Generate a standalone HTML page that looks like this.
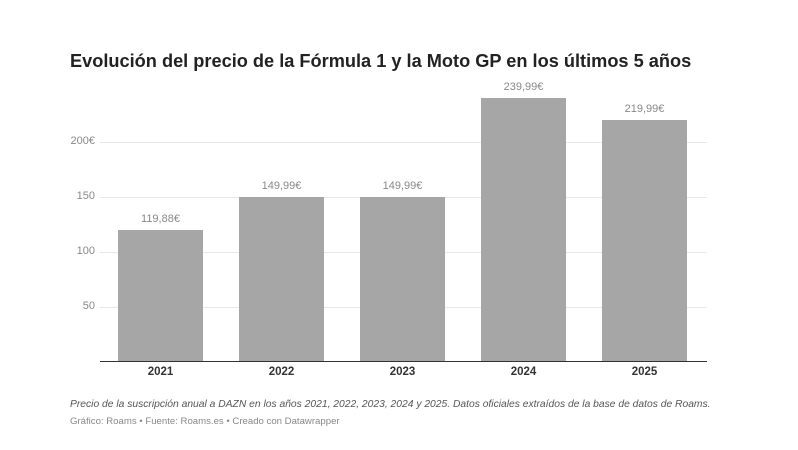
<!DOCTYPE html>
<html><head><meta charset="utf-8"><style>
*{margin:0;padding:0;box-sizing:border-box}
body{width:798px;height:450px;background:#fff;position:relative;overflow:hidden;font-family:"Liberation Sans",sans-serif}
.t{position:absolute;white-space:nowrap}
.g{position:absolute;left:100px;width:607px;height:1px;background:#e8e8e8}
.yl{position:absolute;right:703px;font-size:11px;color:#888;text-align:right}
.bar{position:absolute;width:85px;background:#a6a6a6;bottom:88px}
.vl{position:absolute;width:85px;text-align:center;font-size:11px;color:#888}
.xl{position:absolute;width:85px;text-align:center;font-size:11.5px;color:#333;top:366px;font-weight:bold}
</style></head><body>
<div class="t" style="left:70px;top:51px;font-size:18.2px;font-weight:bold;color:#222">Evolución del precio de la Fórmula 1 y la Moto GP en los últimos 5 años</div>
<div class="g" style="top:142px"></div>
<div class="g" style="top:197px"></div>
<div class="g" style="top:252px"></div>
<div class="g" style="top:307px"></div>
<div class="yl t" style="top:135px">200€</div>
<div class="yl t" style="top:190px">150</div>
<div class="yl t" style="top:245px">100</div>
<div class="yl t" style="top:300px">50</div>
<div class="bar" style="left:118px;top:230px"></div>
<div class="bar" style="left:239px;top:197px"></div>
<div class="bar" style="left:360px;top:197px"></div>
<div class="bar" style="left:481px;top:98px"></div>
<div class="bar" style="left:602px;top:120px"></div>
<div style="position:absolute;left:100px;top:361px;width:607px;height:1px;background:#333"></div>
<div class="vl" style="left:118px;top:213px">119,88€</div>
<div class="vl" style="left:239px;top:180px">149,99€</div>
<div class="vl" style="left:360px;top:180px">149,99€</div>
<div class="vl" style="left:481px;top:81px">239,99€</div>
<div class="vl" style="left:602px;top:103px">219,99€</div>
<div class="xl" style="left:118px">2021</div>
<div class="xl" style="left:239px">2022</div>
<div class="xl" style="left:360px">2023</div>
<div class="xl" style="left:481px">2024</div>
<div class="xl" style="left:602px">2025</div>
<div class="t" style="left:70px;top:399px;font-size:10.3px;font-style:italic;color:#555">Precio de la suscripción anual a DAZN en los años 2021, 2022, 2023, 2024 y 2025. Datos oficiales extraídos de la base de datos de Roams.</div>
<div class="t" style="left:70px;top:416px;font-size:9.6px;color:#888">Gráfico: Roams • Fuente: Roams.es • Creado con Datawrapper</div>
</body></html>
